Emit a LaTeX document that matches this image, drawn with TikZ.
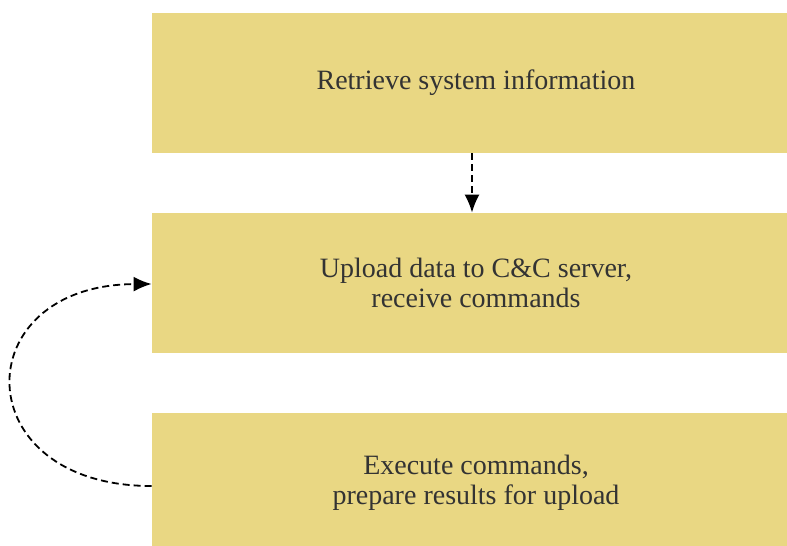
\documentclass[tikz,border=0pt]{standalone}
\usepackage{fontspec}
\setmainfont{Liberation Serif}
\usetikzlibrary{arrows.meta}
\definecolor{stepfill}{HTML}{E9D783}
\definecolor{steptext}{HTML}{333333}
\tikzset{
    stepbox/.style={fill=stepfill, minimum width=324pt, minimum height=70pt,
        inner sep=0pt, align=center, text=steptext, font=\fontsize{14}{15}\selectfont},
    flow/.style={line width=0.9pt, dash pattern=on 3.5pt off 2pt, -{Latex[length=9pt,width=7.5pt]}}
}
\begin{document}
\begin{tikzpicture}[x=0.5pt, y=-0.5pt]
\useasboundingbox (0,0) rectangle (787,546);
\begin{scope}
    \clip (0,0) rectangle (787,546);
    \node[stepbox] (info) at (476,83) {Retrieve system information};
    \node[stepbox] (upload) at (476,283) {Upload data to C\&C server,\\receive commands};
    \node[stepbox] (exec) at (476,483) {Execute commands,\\prepare results for upload};
\end{scope}
\draw[flow] (info.south) ++(-4,0) -- ([xshift=-2pt]upload.north);
\coordinate (execout) at ([yshift=-1.5pt]exec.west);
\coordinate (uploadin) at ([yshift=-0.5pt]upload.west);
\draw[flow] (execout) .. controls (-35,486) and (-35,285) .. (uploadin);
\end{tikzpicture}
\end{document}
